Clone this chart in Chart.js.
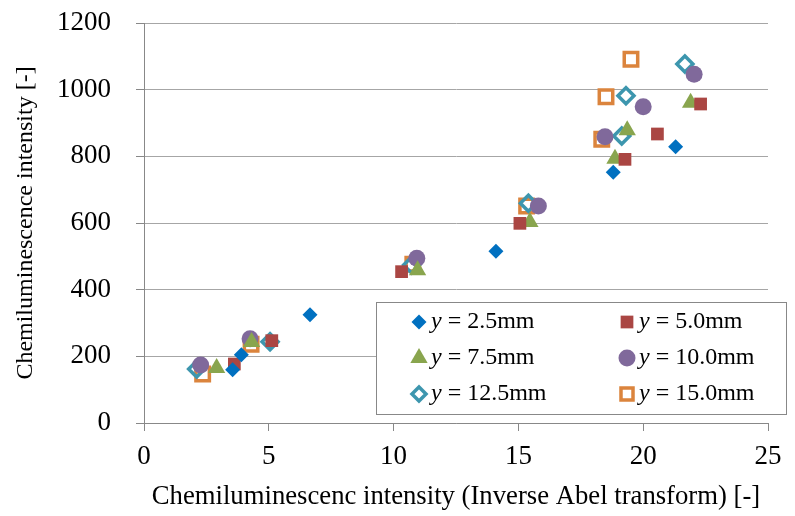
<!DOCTYPE html>
<html><head><meta charset="utf-8">
<script src="https://cdn.jsdelivr.net/npm/chart.js@4"></script>
<style>html,body{margin:0;padding:0;background:#fff}</style>
</head><body>
<canvas id="c" width="795" height="516"></canvas>
<script>
// ---- data ----
const seriesLabels = ['2.5mm', '5.0mm', '7.5mm', '10.0mm', '12.5mm', '15.0mm'];
const x25 = [3.55, 3.9, 6.65, 14.1, 18.8, 21.3];
const y25 = [160, 205, 325, 515, 752, 829];
const x50 = [3.62, 5.12, 10.32, 15.06, 19.27, 20.57, 22.3];
const y50 = [177, 247, 454, 599, 791, 867, 957];
const x75 = [2.91, 4.31, 10.96, 15.46, 18.87, 19.36, 21.9];
const y75 = [165, 243, 458, 603, 793, 878, 961];
const x100 = [2.27, 4.25, 10.93, 15.8, 18.47, 20.0, 22.04];
const y100 = [174, 253, 494, 651, 859, 949, 1046];
const x125 = [2.11, 5.05, 10.72, 15.4, 19.14, 19.31, 21.67];
const y125 = [162, 244, 474, 659, 861, 982, 1077];
const x150 = [2.35, 4.29, 10.77, 15.33, 18.34, 18.51, 19.51];
const y150 = [147, 236, 476, 651, 851, 979, 1091];
const xTicks = [0, 5, 10, 15, 20, 25];
const yTicks = [0, 200, 400, 600, 800, 1000, 1200];

const pts = (xs, ys) => xs.map((x, i) => ({x: x, y: ys[i]}));

const styles = [
  {pointStyle: 'rectRot', radius: 7.5, bg: '#0070C0', bc: '#0070C0', bw: 0},
  {pointStyle: 'rect', radius: 9, bg: '#AA4643', bc: '#AA4643', bw: 0},
  {pointStyle: 'triangle', radius: 10, bg: '#89A54E', bc: '#89A54E', bw: 0},
  {pointStyle: 'circle', radius: 8.5, bg: '#80699B', bc: '#80699B', bw: 0},
  {pointStyle: 'rectRot', radius: 8, bg: 'rgba(0,0,0,0)', bc: '#3D96AE', bw: 3.5},
  {pointStyle: 'rect', radius: 9.5, bg: 'rgba(0,0,0,0)', bc: '#DB843D', bw: 3.5}
];
const dataSets = [pts(x25, y25), pts(x50, y50), pts(x75, y75), pts(x100, y100), pts(x125, y125), pts(x150, y150)];

const FONT = "'Liberation Serif', 'Times New Roman', serif";

function drawMarker(ctx, st, x, y) {
  ctx.save();
  ctx.fillStyle = st.bg;
  ctx.strokeStyle = st.bc;
  ctx.lineWidth = st.bw;
  const r = st.radius;
  ctx.beginPath();
  if (st.pointStyle === 'rectRot') {
    ctx.moveTo(x, y - r); ctx.lineTo(x + r, y); ctx.lineTo(x, y + r); ctx.lineTo(x - r, y); ctx.closePath();
  } else if (st.pointStyle === 'rect') {
    const s = r * Math.SQRT1_2;
    ctx.rect(x - s, y - s, 2 * s, 2 * s);
  } else if (st.pointStyle === 'triangle') {
    ctx.moveTo(x, y - r);
    ctx.lineTo(x + r * Math.sin(Math.PI * 2 / 3), y - r * Math.cos(Math.PI * 2 / 3));
    ctx.lineTo(x - r * Math.sin(Math.PI * 2 / 3), y - r * Math.cos(Math.PI * 2 / 3));
    ctx.closePath();
  } else {
    ctx.arc(x, y, r, 0, Math.PI * 2);
  }
  ctx.fill();
  if (st.bw > 0) ctx.stroke();
  ctx.restore();
}

const legendBox = {
  id: 'legendBox',
  afterDatasetsDraw(chart) {
    const ctx = chart.ctx;
    const L = 376, T = 302, R = 786, B = 414;
    ctx.save();
    ctx.fillStyle = '#fff';
    ctx.fillRect(L, T, R - L, B - T);
    ctx.strokeStyle = '#888';
    ctx.lineWidth = 1;
    ctx.strokeRect(L + 0.5, T + 0.5, R - L, B - T);
    const rows = [322, 358, 394];
    const cols = [{m: 419, t: 431}, {m: 627, t: 639}];
    ctx.textBaseline = 'middle';
    ctx.fillStyle = '#000';
    for (let i = 0; i < seriesLabels.length; i++) {
      const row = Math.floor(i / 2), col = i % 2;
      const y = rows[row];
      const st = Object.assign({}, styles[i]);
      if (st.bw > 0) st.radius -= 1;
      drawMarker(ctx, st, cols[col].m, y);
      let x = cols[col].t;
      ctx.fillStyle = '#000';
      ctx.font = 'italic 24px ' + FONT;
      ctx.fillText('y', x, y);
      x += ctx.measureText('y').width;
      ctx.font = '24px ' + FONT;
      ctx.fillText(' = ' + seriesLabels[i], x, y);
    }
    ctx.restore();
  }
};

new Chart(document.getElementById('c'), {
  type: 'scatter',
  data: {
    datasets: dataSets.map((d, i) => ({
      label: 'y = ' + seriesLabels[i],
      data: d,
      pointStyle: styles[i].pointStyle,
      pointRadius: styles[i].radius,
      pointHoverRadius: styles[i].radius,
      backgroundColor: styles[i].bg,
      borderColor: styles[i].bc,
      borderWidth: styles[i].bw,
      pointBorderWidth: styles[i].bw
    }))
  },
  options: {
    responsive: false,
    devicePixelRatio: 1,
    animation: false,
    events: [],
    layout: {padding: {top: 23, right: 27, left: 0, bottom: 0}},
    plugins: {legend: {display: false}, tooltip: {enabled: false}},
    scales: {
      x: {
        type: 'linear', min: 0, max: 25,
        afterBuildTicks(s) { s.ticks = xTicks.map(v => ({value: v})); },
        afterFit(s) { s.height = 93; },
        ticks: {font: {family: FONT, size: 27}, color: '#000', padding: 10, maxRotation: 0,
          callback: v => String(v)},
        grid: {drawOnChartArea: false, drawTicks: true, tickLength: 8, tickColor: '#888', color: '#888'},
        border: {color: '#888', width: 1},
        title: {display: true, text: 'Chemiluminescenc intensity (Inverse Abel transform) [-]',
          font: {family: FONT, size: 26.7}, color: '#000', padding: {top: 0, bottom: 3}}
      },
      y: {
        type: 'linear', min: 0, max: 1200,
        afterBuildTicks(s) { s.ticks = yTicks.map(v => ({value: v})); },
        afterFit(s) { s.width = 144; s.paddingTop = 0; s.paddingBottom = 0; },
        ticks: {font: {family: FONT, size: 27}, color: '#000', padding: 25,
          callback: v => String(v)},
        grid: {color: '#A6A6A6', tickLength: 8, tickColor: '#888'},
        border: {color: '#888', width: 1},
        title: {display: true, text: 'Chemiluminescence intensity [-]',
          font: {family: FONT, size: 24}, color: '#000', padding: {top: 11, bottom: 0}}
      }
    }
  },
  plugins: [legendBox]
});
</script>
</body></html>
